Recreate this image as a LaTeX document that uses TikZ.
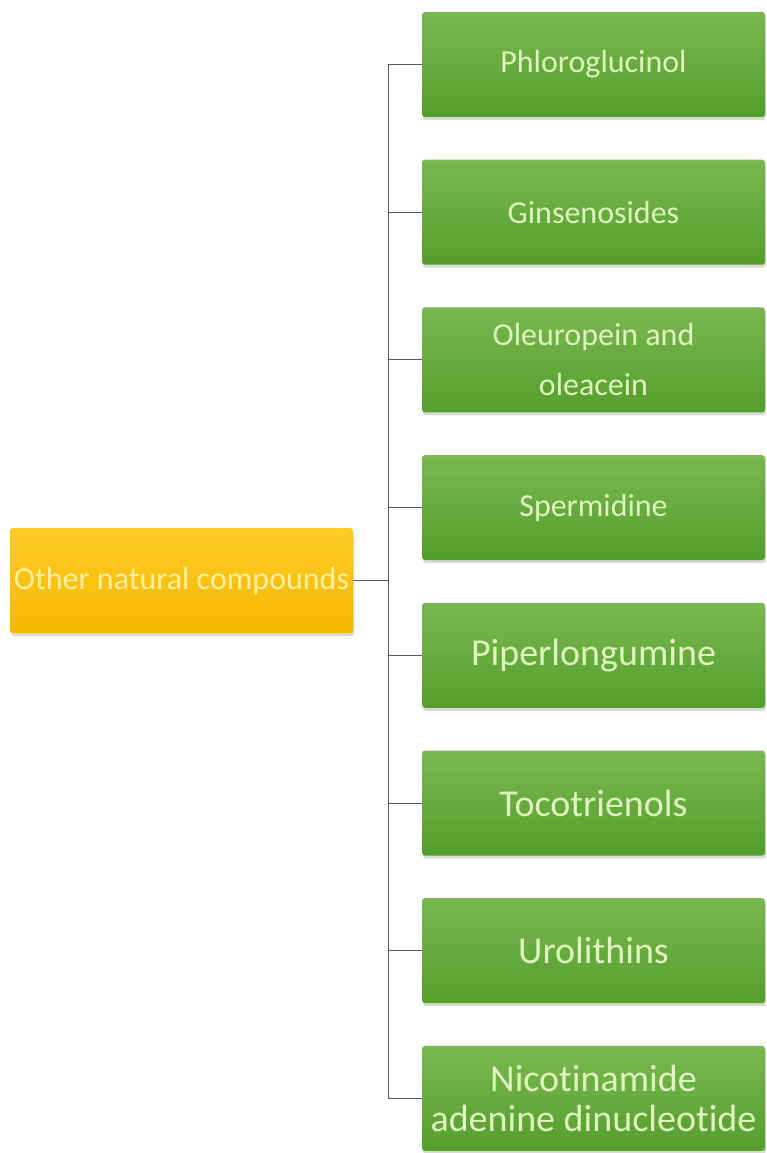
\documentclass[tikz,border=0pt]{standalone}
\usepackage{fontspec}
\setmainfont{Carlito}[Ligatures=NoCommon]
\usepackage{xcolor}
\usepackage{tikz}
\usetikzlibrary{shadows}

\definecolor{greentop}{RGB}{122,184,80}
\definecolor{greenbot}{RGB}{84,158,44}
\definecolor{greentext}{RGB}{222,245,190}
\definecolor{orangetop}{RGB}{255,204,40}
\definecolor{orangebot}{RGB}{246,184,0}
\definecolor{orangetext}{RGB}{255,240,160}
\definecolor{linkgray}{RGB}{85,95,75}

\tikzset{
    box/.style={rectangle, rounded corners=3pt, minimum width=343pt,
        minimum height=105pt, inner sep=0pt, align=center,
        drop shadow={opacity=0.3, shadow xshift=1pt, shadow yshift=-3pt}},
    compbox/.style={box, top color=greentop, bottom color=greenbot,
        text=greentext},
    mainbox/.style={box, top color=orangetop, bottom color=orangebot,
        text=orangetext, font=\fontsize{32}{40}\selectfont},
    small/.style={font=\fontsize{32}{50}\selectfont},
    large/.style={font=\fontsize{38}{40}\selectfont},
    link/.style={draw=linkgray, line width=1pt}
}

\begin{document}
\begin{tikzpicture}[x=1pt, y=-1pt]
    \useasboundingbox (0,0) rectangle (767,1153);

    % 1. Nút gốc
    \node[mainbox] (main) at (181.5,580.5) {Other natural compounds};

    % 2. Các hợp chất
    \node[compbox, small] (phl) at (593.5,64.5)  {Phloroglucinol};
    \node[compbox, small] (gin) at (593.5,212.2) {Ginsenosides};
    \node[compbox, small] (ole) at (593.5,359.9) {Oleuropein and\\oleacein};
    \node[compbox, small] (spe) at (593.5,507.6) {Spermidine};
    \node[compbox, large] (pip) at (593.5,655.3) {Piperlongumine};
    \node[compbox, large] (toc) at (593.5,803.0) {Tocotrienols};
    \node[compbox, large] (uro) at (593.5,950.7) {Urolithins};
    \node[compbox, large] (nad) at (593.5,1098.4) {Nicotinamide\\adenine dinucleotide};

    % 3. Đường nối
    \coordinate (trunk) at (388,0);
    \draw[link] (main.east) -- (main.east -| trunk);
    \draw[link] (trunk |- phl.west) -- (trunk |- nad.west);
    \foreach \n in {phl, gin, ole, spe, pip, toc, uro, nad}
        \draw[link] (trunk |- \n.west) -- (\n.west);
\end{tikzpicture}
\end{document}
